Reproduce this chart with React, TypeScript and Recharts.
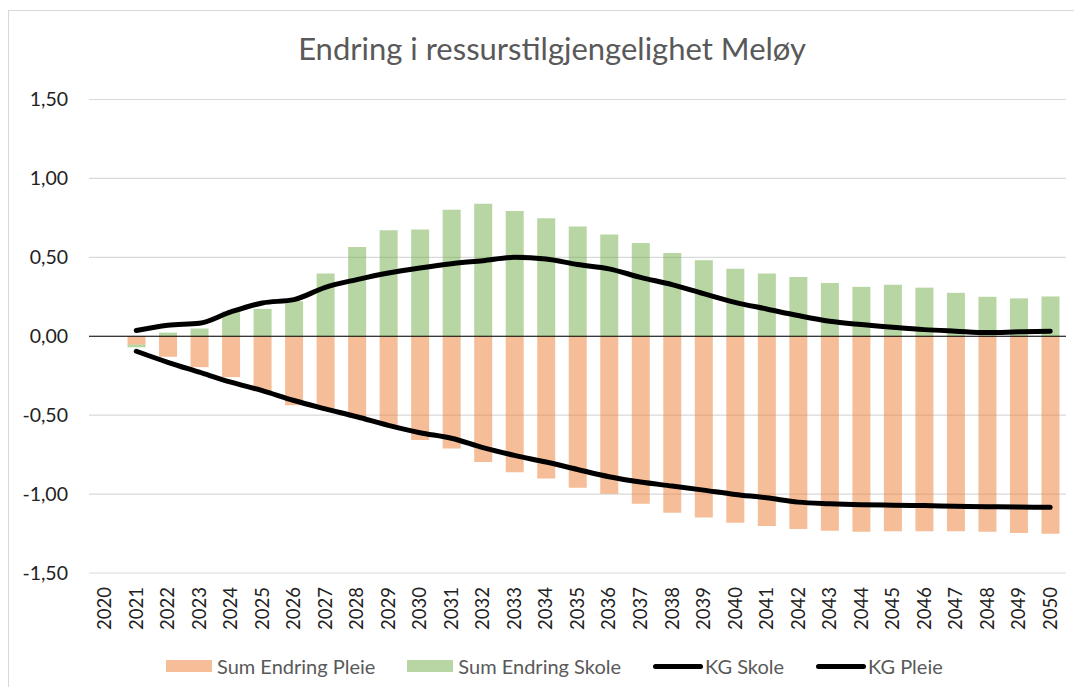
import React from "react";
import {
  ComposedChart,
  Bar,
  Line,
  XAxis,
  YAxis,
  CartesianGrid,
  ReferenceLine,
  Legend,
} from "recharts";

const years = [
  "2020", "2021", "2022", "2023", "2024", "2025", "2026", "2027", "2028", "2029",
  "2030", "2031", "2032", "2033", "2034", "2035", "2036", "2037", "2038", "2039",
  "2040", "2041", "2042", "2043", "2044", "2045", "2046", "2047", "2048", "2049", "2050",
];

const sumEndringPleie = [
  null, -0.053, -0.13, -0.196, -0.259, -0.348, -0.437, -0.465, -0.516, -0.57,
  -0.658, -0.711, -0.797, -0.861, -0.901, -0.96, -0.998, -1.061, -1.118, -1.149,
  -1.181, -1.203, -1.222, -1.232, -1.238, -1.236, -1.236, -1.236, -1.238, -1.247, -1.251,
];

const sumEndringSkole = [
  null, -0.017, 0.023, 0.049, 0.158, 0.173, 0.222, 0.397, 0.566, 0.671,
  0.677, 0.802, 0.84, 0.794, 0.747, 0.696, 0.644, 0.591, 0.528, 0.481,
  0.427, 0.398, 0.376, 0.338, 0.313, 0.327, 0.308, 0.275, 0.25, 0.24, 0.252,
];

const kgSkole = [
  null, 0.036, 0.07, 0.082, 0.154, 0.211, 0.232, 0.31, 0.359, 0.401,
  0.433, 0.46, 0.479, 0.5, 0.49, 0.454, 0.427, 0.373, 0.327, 0.27,
  0.215, 0.173, 0.131, 0.095, 0.074, 0.057, 0.042, 0.032, 0.023, 0.028, 0.032,
];

const kgPleie = [
  null, -0.095, -0.165, -0.228, -0.291, -0.344, -0.407, -0.46, -0.51, -0.565,
  -0.611, -0.646, -0.706, -0.755, -0.797, -0.844, -0.89, -0.924, -0.949, -0.975,
  -1.002, -1.023, -1.051, -1.061, -1.067, -1.07, -1.073, -1.077, -1.08, -1.082, -1.084,
];

const yTicks = [-1.5, -1, -0.5, 0, 0.5, 1, 1.5];

const seriesNames = ["Sum Endring Pleie", "Sum Endring Skole", "KG Skole", "KG Pleie"];
const title = "Endring i ressurstilgjengelighet Meløy";

const data = years.map((year, i) => ({
  year,
  pleie: sumEndringPleie[i],
  skole: sumEndringSkole[i],
  kgSkole: kgSkole[i],
  kgPleie: kgPleie[i],
}));

const FONT = "Lato, 'Open Sans', sans-serif";
const ORANGE = "#ED7D31";
const GREEN = "#70AD47";

const XTick = (props: any) => {
  const { x, y, payload } = props;
  return (
    <text
      x={x}
      y={y}
      transform={`rotate(-90, ${x}, ${y})`}
      textAnchor="end"
      dy="0.35em"
      fontSize={18.5}
      fontFamily={FONT}
      fill="#222"
    >
      {payload.value}
    </text>
  );
};

const LegendContent = () => {
  const items = [
    { name: seriesNames[0], type: "rect", color: ORANGE },
    { name: seriesNames[1], type: "rect", color: GREEN },
    { name: seriesNames[2], type: "line", color: "#000" },
    { name: seriesNames[3], type: "line", color: "#000" },
  ];
  return (
    <div
      style={{
        display: "flex",
        alignItems: "center",
        paddingLeft: 157,
        height: 30,
        fontFamily: FONT,
        fontSize: 20,
        color: "#595959",
      }}
    >
      {items.map((it, i) => (
        <div
          key={it.name}
          style={{ display: "flex", alignItems: "center", marginRight: i < 3 ? 32 : 0 }}
        >
          {it.type === "rect" ? (
            <div
              style={{
                width: 46,
                height: 12,
                background: it.color,
                opacity: 0.5,
                marginRight: 5,
              }}
            />
          ) : (
            <div
              style={{
                width: 50,
                height: 5,
                borderRadius: 3,
                background: it.color,
                marginRight: 2,
              }}
            />
          )}
          <span>{it.name}</span>
        </div>
      ))}
    </div>
  );
};

export default function App() {
  return (
    <div style={{ paddingTop: 2, position: "relative" }}>
      <div
        style={{
          width: 1073,
          height: 677,
          borderTop: "1px solid #d9d9d9",
          borderLeft: "1px solid #d9d9d9",
          boxSizing: "border-box",
          position: "relative",
          background: "#fff",
        }}
      >
        <div
          style={{
            position: "absolute",
            left: 0,
            top: 22,
            width: 1086,
            textAlign: "center",
            fontFamily: FONT,
            fontSize: 31,
            lineHeight: "31px",
            color: "#595959",
          }}
        >
          {title}
        </div>
        <ComposedChart
          width={1072}
          height={676}
          data={data}
          stackOffset="sign"
          margin={{ top: 88.5, right: 15, left: 0, bottom: 6 }}
          barCategoryGap={0}
        >
          <CartesianGrid vertical={false} stroke="#d9d9d9" strokeWidth={1.2} />
          <XAxis
            dataKey="year"
            interval={0}
            axisLine={false}
            tickLine={false}
            tickSize={0}
            tickMargin={14}
            height={78}
            tick={<XTick />}
          />
          <YAxis
            domain={[-1.5, 1.5]}
            ticks={yTicks}
            width={80}
            axisLine={false}
            tickLine={false}
            tickSize={0}
            tickMargin={21}
            tickFormatter={(v: number) => v.toFixed(2).replace(".", ",")}
            tick={{ fontSize: 19.5, fontFamily: FONT, fill: "#222" }}
            allowDataOverflow
          />
          <Legend verticalAlign="bottom" height={30} content={<LegendContent />} />
          <Bar
            dataKey="pleie"
            name={seriesNames[0]}
            stackId="a"
            fill={ORANGE}
            fillOpacity={0.5}
            barSize={18}
            isAnimationActive={false}
          />
          <Bar
            dataKey="skole"
            name={seriesNames[1]}
            stackId="a"
            fill={GREEN}
            fillOpacity={0.5}
            barSize={18}
            isAnimationActive={false}
          />
          <ReferenceLine y={0} stroke="#000" strokeWidth={1.2} />
          <Line
            dataKey="kgSkole"
            name={seriesNames[2]}
            type="monotone"
            stroke="#000"
            strokeWidth={5}
            strokeLinecap="round"
            dot={false}
            activeDot={false}
            isAnimationActive={false}
          />
          <Line
            dataKey="kgPleie"
            name={seriesNames[3]}
            type="monotone"
            stroke="#000"
            strokeWidth={5}
            strokeLinecap="round"
            dot={false}
            activeDot={false}
            isAnimationActive={false}
          />
        </ComposedChart>
      </div>
    </div>
  );
}
